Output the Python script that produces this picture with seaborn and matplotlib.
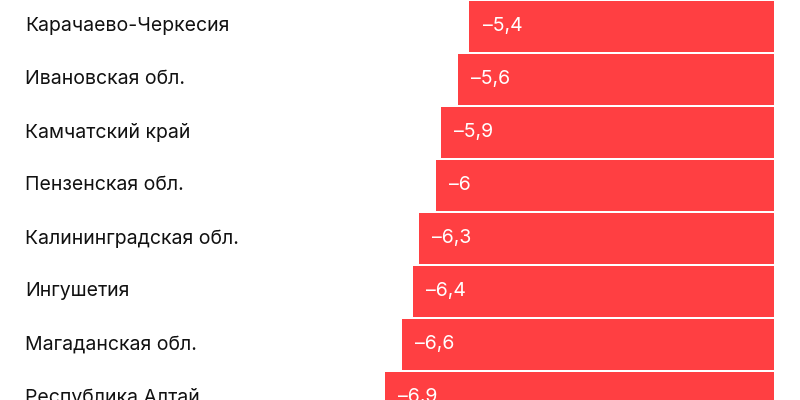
import matplotlib
matplotlib.use("Agg")
import matplotlib.pyplot as plt
import matplotlib.transforms as mtransforms
import seaborn as sns
import pandas as pd

regions = ["Карачаево-Черкесия", "Ивановская обл.", "Камчатский край", "Пензенская обл.",
           "Калининградская обл.", "Ингушетия", "Магаданская обл.", "Республика Алтай"]
values = [-5.4, -5.6, -5.9, -6.0, -6.3, -6.4, -6.6, -6.9]

sns.set_theme(style="white")
plt.rcParams['font.family'] = ['Inter', 'DejaVu Sans']

df = pd.DataFrame({"region": regions, "value": values})

fig = plt.figure(figsize=(8, 4), dpi=100)
ax = fig.add_axes([0, 0, 1, 1])
sns.barplot(data=df, x="value", y="region", orient="h", color="#FF3F42",
            saturation=1, width=0.965, edgecolor="none", ax=ax)

ax.set_xlim(-13.72, 0.46)
ax.set_ylim(7.05, -0.5)
for s in ax.spines.values():
    s.set_visible(False)
ax.set_xticks([])
ax.set_yticks([])
ax.set_xlabel("")
ax.set_ylabel("")

trans = mtransforms.blended_transform_factory(ax.transAxes, ax.transData)
for i, (r, v) in enumerate(zip(regions, values)):
    ax.text(0.031, i, r, transform=trans, ha="left", va="center",
            fontsize=14, color="#111111")
    s = f"{abs(v):g}".replace(".", ",")
    ax.annotate("\u2013" + s, xy=(v, i), xytext=(9.5, 0), textcoords="offset points",
                ha="left", va="center", fontsize=14, color="white")

fig.savefig("out.png", dpi=100)
